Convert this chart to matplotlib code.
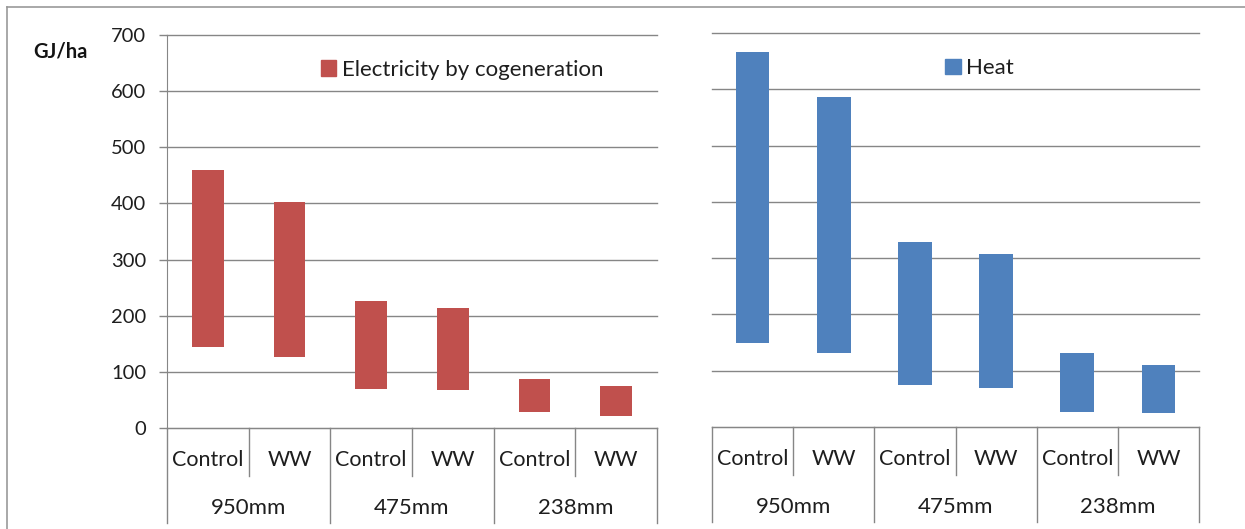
import matplotlib.pyplot as plt
from matplotlib.lines import Line2D
from matplotlib.patches import Patch
import numpy as np

plt.rcParams['font.family'] = ['Lato', 'DejaVu Sans']

treatments = ['Control', 'WW', 'Control', 'WW', 'Control', 'WW']
groups = ['950mm', '475mm', '238mm']

# floating bars: low and high values, GJ/ha
elec_low = [145, 127, 69, 67, 28, 22]
elec_high = [460, 403, 226, 213, 88, 74]
heat_low = [150, 131, 74, 69, 27, 25]
heat_high = [667, 586, 328, 308, 131, 110]

red = '#C0504D'
blue = '#4F81BD'
grey = '#868686'
txt = '#1e1e1e'

fig = plt.figure(figsize=(12.45, 5.29), dpi=100)
ax1 = fig.add_axes([0.1341, 0.1909, 0.3936, 0.7429])
ax2 = fig.add_axes([0.5719, 0.1928, 0.3912, 0.7448])

x = np.arange(len(treatments))


def setup(ax, low, high, color, width, label, leg_x, show_y):
    low = np.array(low)
    high = np.array(high)
    ax.bar(x, high - low, bottom=low, width=width, color=color, zorder=3)
    ax.set_xlim(-0.5, 5.5)
    ax.set_ylim(0, 700)
    ax.set_yticks(range(0, 701, 100))
    ax.yaxis.grid(True, color=grey, linewidth=1.0)
    for gl in ax.get_ygridlines():
        gl.set_clip_on(False)
    ax.set_axisbelow(True)
    ax.set_xticks([])
    for s in ['top', 'right']:
        ax.spines[s].set_visible(False)
    ax.spines['bottom'].set_color(grey)
    ax.spines['left'].set_color(grey)
    if show_y:
        ax.tick_params(axis='y', length=6, width=1.0, color=grey, pad=9,
                       labelsize=14.5, labelcolor=txt)
    else:
        ax.spines['left'].set_visible(False)
        ax.tick_params(axis='y', length=0, labelleft=False)

    tr = ax.get_xaxis_transform()
    for b in [-0.5, 1.5, 3.5, 5.5]:
        ax.plot([b, b], [0, -0.242], transform=tr, color=grey, lw=1.0, clip_on=False)
    for b in [0.5, 2.5, 4.5]:
        ax.plot([b, b], [0, -0.122], transform=tr, color=grey, lw=1.0, clip_on=False)
    for i, t in enumerate(treatments):
        ax.text(i, -0.081, t, transform=tr, ha='center', va='center',
                fontsize=15.5, color=txt)
    for g, name in enumerate(groups):
        ax.text(2 * g + 0.5, -0.204, name, transform=tr, ha='center', va='center',
                fontsize=16, color=txt)

    ax.legend(handles=[Patch(color=color, label=label)], loc='center left',
              bbox_to_anchor=(leg_x, 0.911), frameon=False, fontsize=16,
              borderpad=0, borderaxespad=0, handlelength=0.7, handleheight=0.7,
              handletextpad=0.25, labelcolor=txt)


setup(ax1, elec_low, elec_high, red, 0.385, 'Electricity by cogeneration', 0.314, True)
setup(ax2, heat_low, heat_high, blue, 0.415, 'Heat', 0.479, False)

fig.text(60 / 1245, 1 - 52 / 529, 'GJ/ha', ha='center', va='center',
         fontsize=14.5, fontweight='bold', color='#141414')

# outer frame (top and left edges visible)
fig.add_artist(Line2D([7 / 1245, 1], [1 - 7 / 529, 1 - 7 / 529], color='#999999', lw=1.2))
fig.add_artist(Line2D([7 / 1245, 7 / 1245], [0, 1 - 7 / 529], color='#999999', lw=1.2))

fig.savefig('out.png', dpi=100)
